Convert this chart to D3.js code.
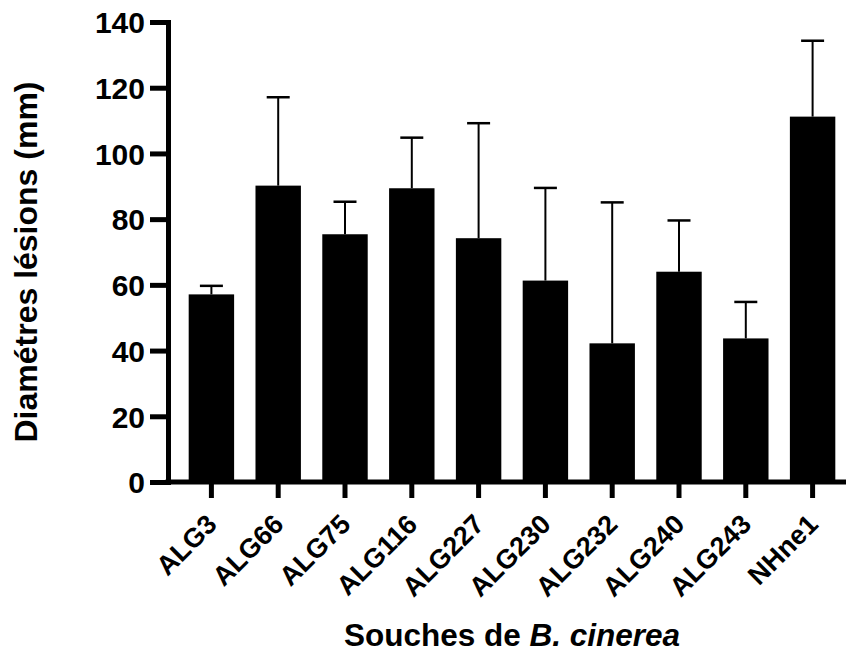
<!DOCTYPE html>
<html>
<head>
<meta charset="utf-8">
<script src="https://cdn.jsdelivr.net/npm/d3@7"></script>
<style>
  body { margin: 0; background: #fff; }
  text { font-family: "Liberation Sans", Arial, sans-serif; font-weight: bold; fill: #000; }
</style>
</head>
<body>
<svg id="chart" width="851" height="654"></svg>
<script>
var STRAINS = ["ALG3", "ALG66", "ALG75", "ALG116", "ALG227", "ALG230", "ALG232", "ALG240", "ALG243", "NHne1"];
var MEANS = [57.1, 90.2, 75.4, 89.4, 74.2, 61.3, 42.2, 64.0, 43.7, 111.2];
var UPPER = [59.7, 117.1, 85.3, 104.8, 109.2, 89.5, 85.1, 79.6, 54.8, 134.3];
var Y_TICKS = [0, 20, 40, 60, 80, 100, 120, 140];

var W = 851, H = 654;
var AXIS_X = 168;
var PLOT_R = 846;
var PLOT_T = 22;
var PLOT_B = 482;
var AXIS_W = 5;

var svg = d3.select("#chart");

var x = d3.scaleBand()
	.domain(STRAINS)
	.range([AXIS_X + 10, PLOT_R])
	.paddingInner(0.32)
	.paddingOuter(0.16);

var y = d3.scaleLinear()
	.domain([0, 140])
	.range([PLOT_B, PLOT_T]);

var rows = STRAINS.map(function(s, i) { return { name: s, mean: MEANS[i], upper: UPPER[i] }; });

// bars
svg.append("g").selectAll("rect.bar")
	.data(rows)
	.enter().append("rect")
	.attr("class", "bar")
	.attr("x", function(d) { return x(d.name); })
	.attr("width", x.bandwidth())
	.attr("y", function(d) { return y(d.mean); })
	.attr("height", function(d) { return y(0) - y(d.mean); })
	.style("fill", "#000");

// error bars (upper only)
var eb = svg.append("g").selectAll("g.err")
	.data(rows)
	.enter().append("g")
	.attr("class", "err");

eb.append("line")
	.attr("x1", function(d) { return x(d.name) + x.bandwidth() / 2; })
	.attr("x2", function(d) { return x(d.name) + x.bandwidth() / 2; })
	.attr("y1", function(d) { return y(d.mean); })
	.attr("y2", function(d) { return y(d.upper); })
	.style("stroke", "#000")
	.style("stroke-width", 2);

eb.append("line")
	.attr("x1", function(d) { return x(d.name) + x.bandwidth() / 2 - 11.5; })
	.attr("x2", function(d) { return x(d.name) + x.bandwidth() / 2 + 11.5; })
	.attr("y1", function(d) { return y(d.upper); })
	.attr("y2", function(d) { return y(d.upper); })
	.style("stroke", "#000")
	.style("stroke-width", 2.5);

// y axis
var yAxis = svg.append("g")
	.attr("transform", "translate(" + AXIS_X + ",0)")
	.call(d3.axisLeft(y).tickValues(Y_TICKS).tickSize(18).tickSizeOuter(0).tickPadding(5));

yAxis.select(".domain")
	.style("stroke", "#000")
	.style("stroke-width", AXIS_W)
	.style("stroke-linecap", "square");
yAxis.selectAll(".tick line")
	.style("stroke", "#000")
	.style("stroke-width", AXIS_W);
yAxis.selectAll(".tick text")
	.style("font-size", "30px")
	.attr("dy", "0.36em");

// x axis
var xAxis = svg.append("g")
	.attr("transform", "translate(0," + PLOT_B + ")")
	.call(d3.axisBottom(x).tickSize(16).tickSizeOuter(0));

xAxis.select(".domain").remove();
xAxis.append("line")
	.attr("x1", AXIS_X - AXIS_W / 2)
	.attr("x2", PLOT_R)
	.attr("y1", 0)
	.attr("y2", 0)
	.style("stroke", "#000")
	.style("stroke-width", AXIS_W);
xAxis.selectAll(".tick line")
	.style("stroke", "#000")
	.style("stroke-width", AXIS_W);
xAxis.selectAll(".tick text")
	.style("font-size", "27px")
	.attr("text-anchor", "end")
	.attr("x", null).attr("y", null).attr("dy", null)
	.attr("transform", "translate(7,44) rotate(-45)");

// axis titles
svg.append("text")
	.attr("transform", "translate(37," + ((PLOT_T + PLOT_B) / 2 + 10) + ") rotate(-90)")
	.attr("text-anchor", "middle")
	.style("font-size", "32px")
	.text("Diamétres lésions (mm)");

var xt = svg.append("text")
	.attr("x", (AXIS_X + PLOT_R) / 2 + 5)
	.attr("y", 646)
	.attr("text-anchor", "middle")
	.style("font-size", "31.5px");
xt.append("tspan").text("Souches de ");
xt.append("tspan").style("font-style", "italic").text("B. cinerea");
</script>
</body>
</html>
